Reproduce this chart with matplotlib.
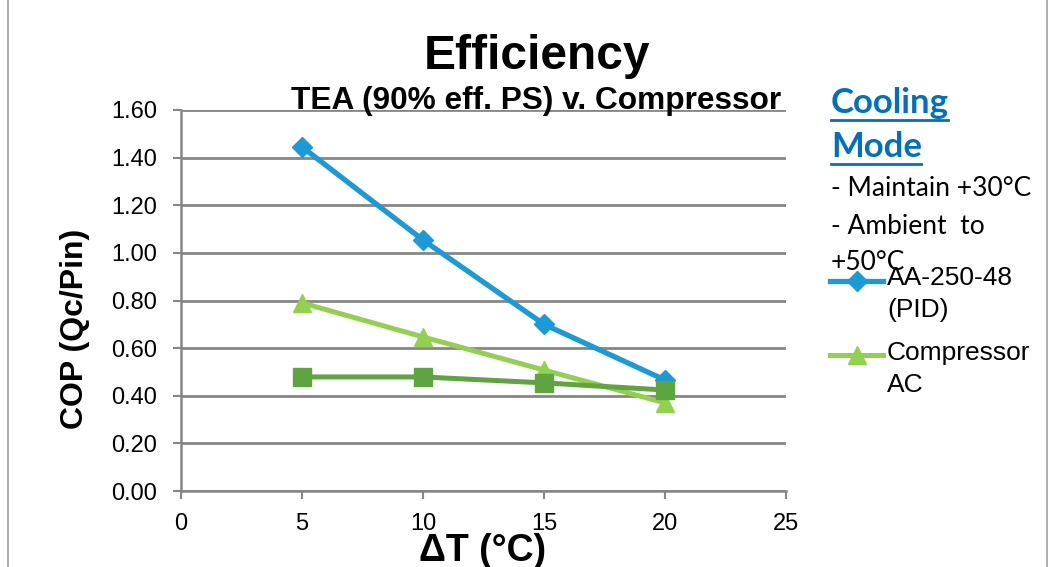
import matplotlib
matplotlib.use("Agg")
import matplotlib.pyplot as plt
from matplotlib.lines import Line2D

plt.rcParams['font.family'] = ['Liberation Sans', 'DejaVu Sans']

# data
delta_t = [5, 10, 15, 20]
tea_pid = [1.445, 1.054, 0.70, 0.466]
compressor_ac = [0.79, 0.647, 0.508, 0.37]
tea_other = [0.479, 0.479, 0.454, 0.424]
x_ticks = [0, 5, 10, 15, 20, 25]
y_ticks = [0.0, 0.2, 0.4, 0.6, 0.8, 1.0, 1.2, 1.4, 1.6]
legend_labels = ['AA-250-48\n(PID)', 'Compressor\nAC']

W, H = 1052, 567
fig = plt.figure(figsize=(W / 100, H / 100), dpi=100)
ax = fig.add_axes([181 / W, 1 - 491 / H, (786 - 181) / W, (491 - 110) / H])

blue = '#1A9AD7'
lgreen = '#92D050'
dgreen = '#5EA540'

ax.plot(delta_t, compressor_ac, color=lgreen, lw=3.6, marker='^', ms=12.5, zorder=3)
ax.plot(delta_t, tea_pid, color=blue, lw=3.8, marker='D', ms=10.5, zorder=4)
ax.plot(delta_t, tea_other, color=dgreen, lw=3.6, marker='s', ms=12.5, zorder=5)

ax.set_xlim(0, 25)
ax.set_ylim(0, 1.6)
ax.set_xticks(x_ticks)
ax.set_yticks(y_ticks)
ax.set_yticklabels([f'{v:.2f}' for v in y_ticks])
ax.tick_params(axis='both', labelsize=17, color='#868686', width=1.5, length=6)
ax.tick_params(axis='y', pad=11)
ax.tick_params(axis='x', pad=10)
ax.yaxis.grid(True, color='#868686', lw=2)
ax.set_axisbelow(True)
for s in ['top', 'right']:
    ax.spines[s].set_visible(False)
for s in ['left', 'bottom']:
    ax.spines[s].set_color('#868686')
    ax.spines[s].set_linewidth(1.8)

fig.text(537 / W, 1 - 57 / H, 'Efficiency', ha='center', va='center',
         fontsize=34.5, fontweight='bold')
fig.text(536 / W, 1 - 101 / H, 'TEA (90% eff. PS) v. Compressor', ha='center',
         va='center', fontsize=22.8, fontweight='bold')
fig.text(75 / W, 1 - 329 / H, 'COP (Qc/Pin)', ha='center', va='center',
         rotation=90, fontsize=23, fontweight='bold')
fig.text(483 / W, 1 - 551 / H, 'ΔT (°C)', ha='center', va='center',
         fontsize=27, fontweight='bold')

side = ['Lato', 'DejaVu Sans']
fig.text(831 / W, 1 - 103 / H, 'Cooling', ha='left', va='center', fontsize=25,
         fontweight='bold', color='#0070C0', family=side)
fig.text(831 / W, 1 - 147 / H, 'Mode', ha='left', va='center', fontsize=25,
         fontweight='bold', color='#0070C0', family=side)
fig.add_artist(Line2D([831 / W, 948 / W], [1 - 120 / H, 1 - 120 / H], color='#0070C0', lw=2))
fig.add_artist(Line2D([831 / W, 921 / W], [1 - 164 / H, 1 - 164 / H], color='#0070C0', lw=2))
fig.text(831 / W, 1 - 189 / H, '- Maintain +30°C', ha='left', va='center', fontsize=19, family=side)
fig.text(831 / W, 1 - 226 / H, '- Ambient  to', ha='left', va='center', fontsize=19, family=side)
fig.text(831 / W, 1 - 262 / H, '+50°C', ha='left', va='center', fontsize=19, family=side)

# legend (manual swatches)
fig.add_artist(Line2D([830 / W, 883 / W], [1 - 281 / H] * 2, color=blue, lw=3.8))
fig.add_artist(Line2D([857 / W], [1 - 281 / H], color=blue, marker='D', ms=10.5))
fig.add_artist(Line2D([830 / W, 883 / W], [1 - 355 / H] * 2, color=lgreen, lw=3.6))
fig.add_artist(Line2D([857 / W], [1 - 355 / H], color=lgreen, marker='^', ms=12.5))
fig.text(887 / W, 1 - 266 / H, legend_labels[0], ha='left', va='top', fontsize=19,
         linespacing=1.4)
fig.text(887 / W, 1 - 341 / H, legend_labels[1], ha='left', va='top', fontsize=19,
         linespacing=1.4)

fig.add_artist(Line2D([8 / W, 8 / W], [0, 1], color='#A0A0A0', lw=1.2))
fig.add_artist(Line2D([1047 / W, 1047 / W], [0, 1], color='#A0A0A0', lw=1.2))

fig.savefig('out.png', dpi=100)
